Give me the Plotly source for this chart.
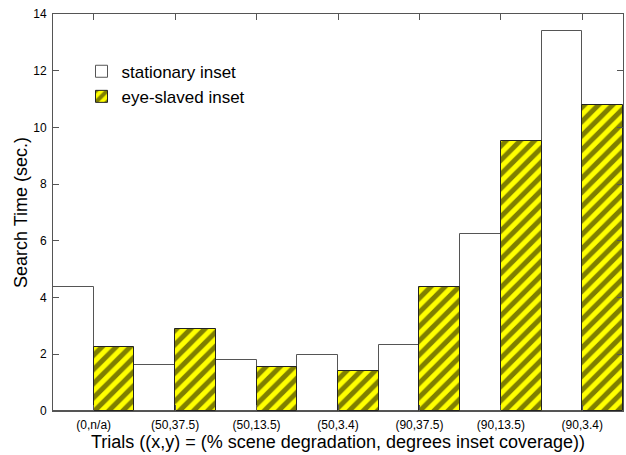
import plotly.graph_objects as go

categories = ["(0,n/a)", "(50,37.5)", "(50,13.5)", "(50,3.4)", "(90,37.5)", "(90,13.5)", "(90,3.4)"]
stationary = [4.37, 1.63, 1.81, 1.99, 2.32, 6.24, 13.40]
eye_slaved = [2.25, 2.88, 1.56, 1.42, 4.37, 9.52, 10.79]
y_ticks = [0, 2, 4, 6, 8, 10, 12, 14]

FONT = "Liberation Sans, Arial, Helvetica, sans-serif"

fig = go.Figure()
fig.add_trace(go.Bar(
    x=categories, y=stationary, name="stationary inset",
    marker=dict(color="white", line=dict(color="#555555", width=1)),
))
fig.add_trace(go.Bar(
    x=categories, y=eye_slaved, name="eye-slaved inset",
    marker=dict(color="#ffff00", line=dict(color="#222222", width=1),
                pattern=dict(shape="/", fgcolor="black", bgcolor="#ffff00", size=10, solidity=0.5)),
))

axis_common = dict(showline=True, linecolor="#555555", linewidth=1, mirror="allticks",
                   ticks="inside", tickcolor="#555555", ticklen=6, showgrid=False, zeroline=False,
                   automargin=False,
                   tickfont=dict(family=FONT, size=12, color="black"))

fig.update_layout(
    width=626, height=455,
    margin=dict(l=53, r=3, t=14, b=44),
    paper_bgcolor="white", plot_bgcolor="white",
    barmode="group", bargap=0, bargroupgap=0,
    font=dict(family=FONT, color="black"),
    showlegend=True,
    legend=dict(x=0.05, y=0.9, xanchor="left", yanchor="top",
                font=dict(family=FONT, size=17, color="black"),
                bgcolor="rgba(0,0,0,0)", tracegroupgap=0),
    xaxis=dict(**axis_common, range=[-0.5, 6.5], ticklabelstandoff=3,
               title=dict(text="Trials ((x,y) = (% scene degradation, degrees inset coverage))",
                          font=dict(family=FONT, size=18, color="black"), standoff=2)),
    yaxis=dict(**axis_common, range=[0, 14], tickvals=y_ticks, ticklabelstandoff=3,
               title=dict(text="Search Time (sec.)", font=dict(family=FONT, size=18, color="black"), standoff=0)),
)

fig.write_html("out.html", config={"displayModeBar": False},
               post_script="document.body.style.margin='0';document.body.style.padding='0';")
